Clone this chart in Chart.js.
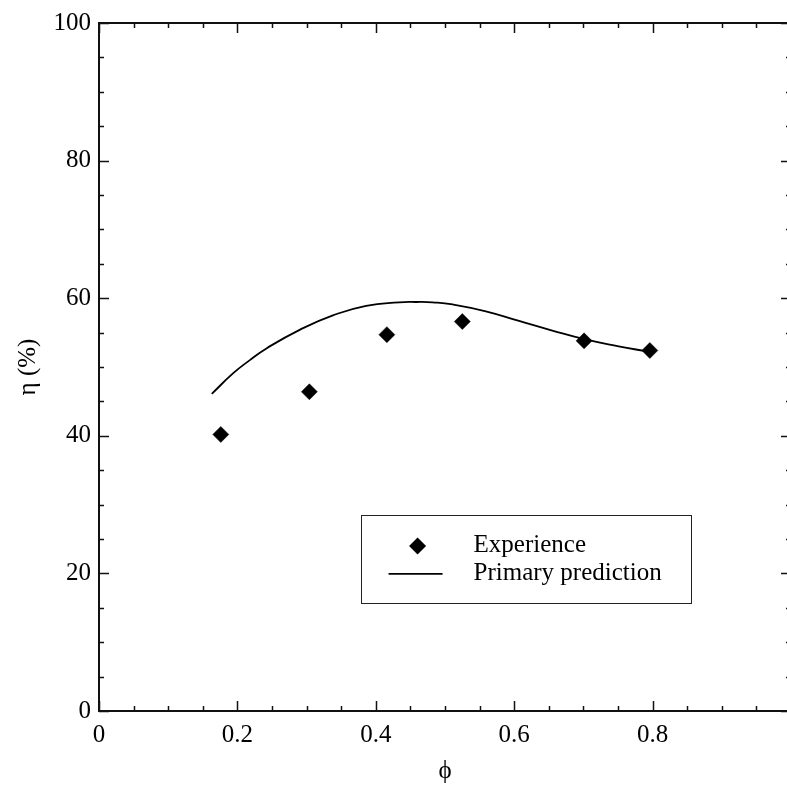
<!DOCTYPE html>
<html lang="en">
<head>
<meta charset="UTF-8">
<meta name="viewport" content="width=device-width, initial-scale=1.0">
<title>Efficiency versus phi</title>
<script src="https://cdn.jsdelivr.net/npm/chart.js"></script>
<style>
    html, body { margin: 0; padding: 0; overflow: hidden; background: #fff; }
    #wrap { width: 787px; height: 785px; overflow: hidden; position: relative; }
    #effChart { position: absolute; left: 0; top: 0; }
</style>
</head>
<body>
<div id="wrap"><canvas id="effChart" width="800" height="785"></canvas></div>
<script>
    // measured efficiency
    const expPhi = [0.176, 0.304, 0.416, 0.525, 0.701, 0.796];
    const expEta = [40.2, 46.4, 54.7, 56.6, 53.8, 52.4];

    // primary prediction curve
    const predPhi = [0.163, 0.194, 0.218, 0.242, 0.290, 0.338, 0.386, 0.434, 0.458, 0.482, 0.511, 0.559, 0.607, 0.655, 0.703, 0.751, 0.790];
    const predEta = [46.1, 49.1, 51.0, 52.7, 55.4, 57.5, 58.9, 59.4, 59.45, 59.4, 59.1, 58.1, 56.7, 55.3, 54.0, 53.0, 52.3];

    const xTicks = [0, 0.2, 0.4, 0.6, 0.8];
    const yTicks = [0, 20, 40, 60, 80, 100];
    const seriesNames = ['Experience', 'Primary prediction'];

    const serif = 'Liberation Serif, Times New Roman, serif';
    const tickFont = { family: serif, size: 25 };

    // frame on all four sides with inward major/minor ticks
    const frameTicks = {
        id: 'frameTicks',
        beforeDatasetsDraw(chart) {
            const { ctx, chartArea: a, scales: { x, y } } = chart;
            ctx.save();
            ctx.strokeStyle = '#111';
            ctx.lineWidth = 2;
            ctx.strokeRect(a.left, a.top, a.right - a.left, a.bottom - a.top);
            ctx.lineWidth = 1.5;
            ctx.beginPath();
            for (let i = 0; i <= 20; i++) {
                const px = Math.round(x.getPixelForValue(i * 0.05)) + 0.5;
                const len = i % 4 === 0 ? 10 : 5;
                ctx.moveTo(px, a.bottom); ctx.lineTo(px, a.bottom - len);
                ctx.moveTo(px, a.top); ctx.lineTo(px, a.top + len);
            }
            for (let i = 0; i <= 20; i++) {
                const py = Math.round(y.getPixelForValue(i * 5)) + 0.5;
                const len = i % 4 === 0 ? 10 : 5;
                ctx.moveTo(a.left, py); ctx.lineTo(a.left + len, py);
                ctx.moveTo(a.right, py); ctx.lineTo(a.right - len, py);
            }
            ctx.stroke();
            ctx.restore();
        }
    };

    // boxed legend inside the plot
    const boxLegend = {
        id: 'boxLegend',
        afterDraw(chart) {
            const { ctx, chartArea: a } = chart;
            const w = a.right - a.left, h = a.bottom - a.top;
            const left = a.left + 0.378 * w, right = a.left + 0.855 * w;
            const top = a.top + 0.715 * h, bottom = a.top + 0.843 * h;
            ctx.save();
            ctx.strokeStyle = '#222';
            ctx.lineWidth = 1;
            ctx.strokeRect(Math.round(left) + 0.5, Math.round(top) + 0.5, Math.round(right - left), Math.round(bottom - top));

            const row1 = top + 31, row2 = top + 59;
            ctx.fillStyle = '#000';
            ctx.strokeStyle = '#000';
            Chart.helpers.drawPoint(ctx, { pointStyle: 'rectRot', radius: 8.5, borderWidth: 0 }, left + 57, row1);
            ctx.lineWidth = 1.6;
            ctx.beginPath();
            ctx.moveTo(left + 28, row2); ctx.lineTo(left + 82, row2);
            ctx.stroke();

            ctx.font = '25px ' + serif;
            ctx.textBaseline = 'middle';
            ctx.textAlign = 'left';
            ctx.fillText(seriesNames[0], left + 113, row1);
            ctx.fillText(seriesNames[1], left + 113, row2);
            ctx.restore();
        }
    };

    const ctx = document.getElementById('effChart').getContext('2d');

    new Chart(ctx, {
        type: 'scatter',
        data: {
            datasets: [
                {
                    label: seriesNames[0],
                    data: expPhi.map((v, i) => ({ x: v, y: expEta[i] })),
                    pointStyle: 'rectRot',
                    pointRadius: 8,
                    pointBackgroundColor: '#000',
                    pointBorderColor: '#000',
                    pointBorderWidth: 0.5,
                    showLine: false
                },
                {
                    label: seriesNames[1],
                    data: predPhi.map((v, i) => ({ x: v, y: predEta[i] })),
                    showLine: true,
                    borderColor: '#000',
                    borderWidth: 1.8,
                    pointRadius: 0,
                    tension: 0.5
                }
            ]
        },
        options: {
            responsive: false,
            animation: false,
            layout: { padding: { left: 0, top: 17, right: 7.5, bottom: 0 } },
            plugins: {
                legend: { display: false },
                tooltip: { enabled: false }
            },
            scales: {
                x: {
                    type: 'linear',
                    min: 0,
                    max: 1,
                    afterBuildTicks: s => { s.ticks = xTicks.concat([1]).map(v => ({ value: v })); },
                    afterFit: s => { s.height = 74; },
                    grid: { display: false, drawTicks: false },
                    border: { display: false },
                    ticks: {
                        padding: 9,
                        color: '#000',
                        font: tickFont,
                        maxRotation: 0,
                        callback: v => xTicks.includes(v) ? String(v) : ''
                    },
                    title: {
                        display: true,
                        text: 'ϕ',
                        color: '#000',
                        font: { family: serif, size: 25, lineHeight: 1 },
                        padding: { top: 0, bottom: 1 }
                    }
                },
                y: {
                    min: 0,
                    max: 100,
                    afterBuildTicks: s => { s.ticks = yTicks.map(v => ({ value: v })); },
                    afterFit: s => { s.width = 99; },
                    grid: { display: false, drawTicks: false },
                    border: { display: false },
                    ticks: {
                        padding: 8,
                        color: '#000',
                        font: tickFont
                    },
                    title: {
                        display: true,
                        text: 'η (%)',
                        color: '#000',
                        font: { family: serif, size: 25, lineHeight: 1 },
                        padding: { top: 16, bottom: 0 }
                    }
                }
            }
        },
        plugins: [frameTicks, boxLegend]
    });
</script>
</body>
</html>
